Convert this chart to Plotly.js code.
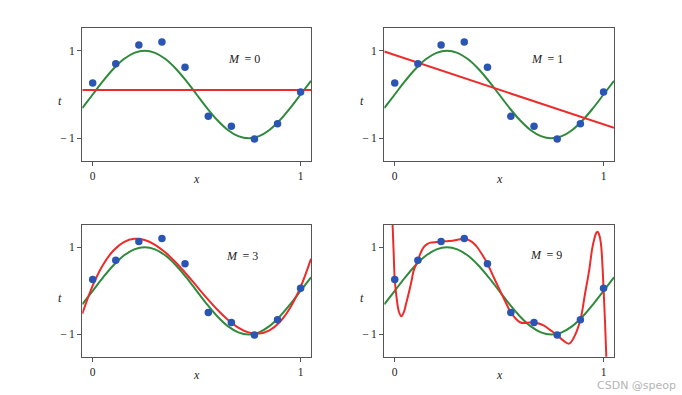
<!DOCTYPE html>
<html>
<head>
<meta charset="utf-8">
<script src="https://cdn.plot.ly/plotly-3.0.1.min.js"></script>
<style>html,body{margin:0;padding:0;background:#fff;}#chart{width:682px;height:395px;}</style>
</head>
<body>
<div id="chart"></div>
<script>
// Observed data points (x, t)
const xData = [0, 0.111, 0.222, 0.333, 0.444, 0.556, 0.667, 0.778, 0.889, 1];
const tData = [0.262, 0.703, 1.129, 1.198, 0.620, -0.498, -0.726, -1.015, -0.665, 0.057];

// Curve sample positions
const xCurve = [-0.05, 0, 0.05, 0.1, 0.15, 0.2, 0.25, 0.3, 0.35, 0.4, 0.45, 0.5,
                0.55, 0.6, 0.65, 0.7, 0.75, 0.8, 0.85, 0.9, 0.95, 1.0, 1.05];
// Green curve (true function)
const greenT = [-0.309, 0, 0.309, 0.588, 0.809, 0.951, 1, 0.951, 0.809, 0.588, 0.309, 0,
                -0.309, -0.588, -0.809, -0.951, -1, -0.951, -0.809, -0.588, -0.309, 0, 0.309];
// M = 0 fit
const m0X = [-0.05, 1.05];
const m0T = [0.105, 0.105];
// M = 1 fit
const m1X = [-0.05, 1.05];
const m1T = [0.98, -0.76];
// M = 3 fit
const m3T = [-0.525, 0.122, 0.600, 0.926, 1.118, 1.193, 1.166, 1.055, 0.877, 0.649, 0.387, 0.107,
             -0.172, -0.434, -0.663, -0.841, -0.952, -0.980, -0.906, -0.714, -0.388, 0.089, 0.734];
// M = 9 fit
const m9X = [-0.018, -0.01, -0.005, 0, 0.01, 0.02, 0.032, 0.045, 0.055, 0.067, 0.08, 0.091, 0.111,
             0.125, 0.139, 0.155, 0.171, 0.2, 0.222, 0.25, 0.275, 0.305, 0.333, 0.36, 0.38, 0.395,
             0.42, 0.444, 0.475, 0.5, 0.53, 0.556, 0.58, 0.6, 0.62, 0.645, 0.667, 0.69, 0.715,
             0.745, 0.778, 0.805, 0.835, 0.86, 0.889, 0.91, 0.931, 0.945, 0.955, 0.965, 0.971,
             0.978, 0.987, 1.0, 1.013, 1.02];
const m9T = [2.6, 1.49, 0.85, 0.262, -0.2, -0.48, -0.585, -0.47, -0.28, -0.057, 0.22, 0.47, 0.703,
             0.88, 1.0, 1.07, 1.105, 1.12, 1.129, 1.14, 1.15, 1.175, 1.198, 1.15, 1.08, 1.0,
             0.82, 0.62, 0.3, 0.05, -0.25, -0.498, -0.64, -0.72, -0.74, -0.725, -0.726, -0.75, -0.80,
             -0.9, -1.015, -1.13, -1.21, -1.05, -0.665, -0.1, 0.47, 0.95, 1.18, 1.33, 1.355,
             1.3, 1.1, 0.057, -1.49, -2.6];

const panelLabels = ['M = 0', 'M = 1', 'M = 3', 'M = 9'];
const xTickVals = [0, 1];
const xTickText = ['0', '1'];
const yTickVals = [-1, 1];
const yTickText = ['\u2212\u20091', '1'];

const GREEN = '#2f8a3c', RED = '#ee2b2b', BLUE = '#2b55b3';
const SERIF = 'Liberation Serif, Times New Roman, serif';

const fits = [
  {x: m0X, y: m0T, shape: 'linear'},
  {x: m1X, y: m1T, shape: 'linear'},
  {x: xCurve, y: m3T, shape: 'spline'},
  {x: m9X, y: m9T, shape: 'spline'}
];

const traces = [];
const suffix = ['', '2', '3', '4'];
for (let i = 0; i < 4; i++) {
  const xa = 'x' + suffix[i], ya = 'y' + suffix[i];
  traces.push({x: xCurve, y: greenT, xaxis: xa, yaxis: ya, mode: 'lines',
    line: {color: GREEN, width: 2, shape: 'spline'}, hoverinfo: 'skip'});
  traces.push({x: fits[i].x, y: fits[i].y, xaxis: xa, yaxis: ya, mode: 'lines',
    line: {color: RED, width: 2, shape: fits[i].shape, smoothing: 1}, hoverinfo: 'skip'});
  traces.push({x: xData, y: tData, xaxis: xa, yaxis: ya, mode: 'markers',
    marker: {color: BLUE, size: 7.5}, hoverinfo: 'skip'});
}

function xAxis(domain, anchor) {
  return {domain: domain, anchor: anchor, range: [-0.05, 1.05], tickvals: xTickVals, ticktext: xTickText,
    ticks: 'outside', ticklen: 4, tickwidth: 1.2, tickcolor: '#555', showline: true, mirror: true,
    linecolor: '#555', linewidth: 1.2, showgrid: false, zeroline: false,
    tickfont: {family: SERIF, size: 11.5, color: '#222'}};
}
function yAxis(domain, anchor) {
  return {domain: domain, anchor: anchor, range: [-1.51, 1.51], tickvals: yTickVals, ticktext: yTickText,
    ticks: 'outside', ticklen: 4, tickwidth: 1.2, tickcolor: '#555', showline: true, mirror: true,
    linecolor: '#555', linewidth: 1.2, showgrid: false, zeroline: false,
    tickfont: {family: SERIF, size: 11.5, color: '#222'}};
}

const W = 682, H = 395;
const dxL = [82.3 / W, 311 / W], dxR = [384.3 / W, 614 / W];
const dyT = [1 - 160.7 / H, 1 - 28.3 / H], dyB = [1 - 356.7 / H, 1 - 225 / H];

const annotations = [];
const labelPos = [[0.73, 0.81], [0.73, 0.81], [0.72, 0.81], [0.725, 0.83]];
for (let i = 0; i < 4; i++) {
  const parts = panelLabels[i].split(' = ');
  annotations.push({xref: 'x' + suffix[i], yref: 'y' + suffix[i], x: labelPos[i][0], y: labelPos[i][1],
    text: '<i>' + parts[0] + '</i>\u2009 = ' + parts[1], showarrow: false,
    font: {family: SERIF, size: 12, color: '#222'}, xanchor: 'center', yanchor: 'middle'});
}
const xTitlePos = [[196.7, 179], [499, 179], [196.7, 375], [499, 375]];
const tTitlePos = [[60, 100.5], [362, 101], [60, 298.3], [362, 298.3]];
for (let i = 0; i < 4; i++) {
  annotations.push({xref: 'paper', yref: 'paper', x: xTitlePos[i][0] / W, y: 1 - xTitlePos[i][1] / H,
    text: '<i>x</i>', showarrow: false, xanchor: 'center', yanchor: 'middle',
    font: {family: SERIF, size: 12, color: '#222'}});
  annotations.push({xref: 'paper', yref: 'paper', x: tTitlePos[i][0] / W, y: 1 - tTitlePos[i][1] / H,
    text: '<i>t</i>', showarrow: false, xanchor: 'center', yanchor: 'middle',
    font: {family: SERIF, size: 12, color: '#222'}});
}
annotations.push({xref: 'paper', yref: 'paper', x: 636 / W, y: 1 - 385 / H, text: 'CSDN @speop',
  showarrow: false, xanchor: 'center', yanchor: 'middle',
  font: {family: 'DejaVu Sans, sans-serif', size: 11, color: '#b4b4b4'}});

const layout = {
  width: W, height: H, margin: {l: 0, r: 0, t: 0, b: 0},
  paper_bgcolor: '#fff', plot_bgcolor: '#fff', showlegend: false,
  xaxis: xAxis(dxL, 'y'), yaxis: yAxis(dyT, 'x'),
  xaxis2: xAxis(dxR, 'y2'), yaxis2: yAxis(dyT, 'x2'),
  xaxis3: xAxis(dxL, 'y3'), yaxis3: yAxis(dyB, 'x3'),
  xaxis4: xAxis(dxR, 'y4'), yaxis4: yAxis(dyB, 'x4'),
  annotations: annotations
};

Plotly.newPlot('chart', traces, layout, {staticPlot: true, displayModeBar: false});
</script>
</body>
</html>
